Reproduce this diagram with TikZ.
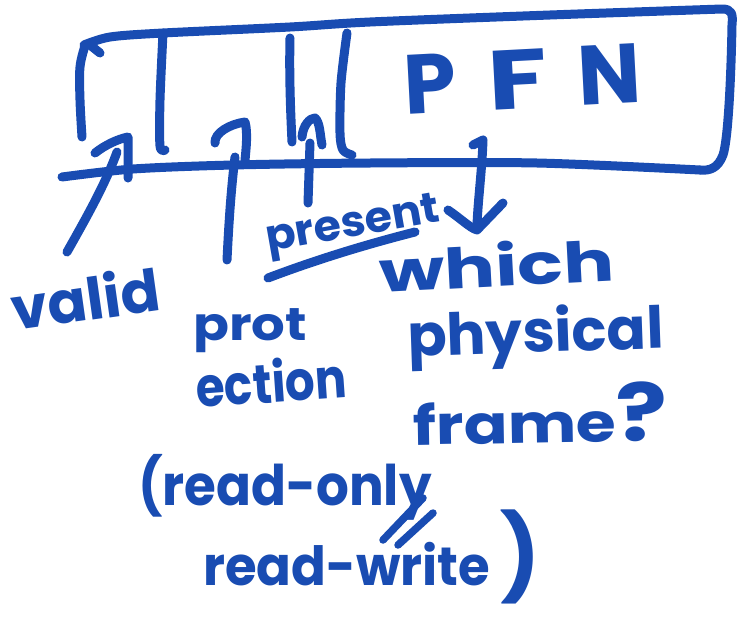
\documentclass[tikz,border=0pt]{standalone}
\usepackage{graphicx}
\usepackage{fontspec}
\newfontfamily\hand{Poppins}
\definecolor{ink}{RGB}{25,76,178}
\tikzset{
  pen/.style={draw=ink, line width=9pt, line cap=round, line join=round},
  thinpen/.style={pen, line width=7.5pt},
  word/.style={text=ink, inner sep=0pt, anchor=base west},
}
\newcommand{\handsize}[1]{\hand\bfseries\fontsize{#1}{#1}\selectfont}
\newcommand{\wide}[2]{\scalebox{#1}[1]{#2}}
\begin{document}
\begin{tikzpicture}[x=1pt,y=-1pt]
\useasboundingbox (0,0) rectangle (739,624);

% --- the page-table entry box ---
\draw[pen] plot[smooth, tension=0.6] coordinates {(82,137) (80,100) (80,67) (85,46)};
\draw[pen] plot[smooth] coordinates {(84,45) (110,37) (163,33) (290,27) (370,22) (550,15) (722,9)}
  .. controls (732,9) and (733,14) .. (732,25)
  .. controls (731,80) and (728,140) .. (723,155)
  .. controls (718,168) and (710,171) .. (700,170);
\draw[pen] plot[smooth] coordinates {(62,177) (133,169) (233,165) (370,163) (537,163) (700,170)};
\draw[pen] (90,45) -- (100,53);

% field dividers
\draw[pen] plot[smooth] coordinates {(163,33) (160,100) (160,146) (165,150)};
\draw[pen] (290,38) .. controls (289,80) and (291,120) .. (292,142);
\draw[pen] plot[smooth] coordinates {(347,33) (341,83) (340,133) (343,150) (352,155)};

% --- labels ---
\node[word, rotate=3, font=\handsize{84}] (pfn) at (405,115) {P\hspace{32pt}\wide{1.3}{F}\hspace{30pt}N};
\node[word, rotate=8, font=\handsize{58}] (valid) at (14,331) {valid};
\node[word, rotate=10, font=\handsize{43}] (present) at (268,252) {\wide{1.03}{present}};
\node[word, font=\handsize{46}] (prot) at (193,340) {\wide{1.15}{prot}};
\node[word, rotate=4, font=\handsize{55}] (ection) at (197,408) {\wide{0.85}{ection}};
\node[word, rotate=3, font=\handsize{56}] (which) at (380,293) {\wide{1.35}{which}};
\node[word, rotate=2, font=\handsize{58}] (physical) at (408,357) {physical};
\node[word, rotate=1, font=\handsize{54}] (frame) at (413,445) {\wide{1.2}{frame{\fontsize{80}{80}\selectfont ?}}};
\node[word, font=\handsize{56}] (ro) at (138,505) {\wide{0.92}{(read-only}};
\node[word, font=\handsize{54}] (rw) at (203,585) {\wide{0.95}{read-write}};
\node[word, font=\handsize{84}] (cparen) at (500,586) {)};

% underline of "present"
\coordinate (ulA) at (268,278);
\coordinate (ulB) at (415,232);
\draw[pen] (ulA) .. controls (310,262) and (360,246) .. (ulB);

% separator strokes between the two access modes
\coordinate (sA1) at (383,540); \coordinate (sA2) at (423,498);
\coordinate (sB1) at (398,545); \coordinate (sB2) at (433,513);
\draw[thinpen] (sA1) -- (sA2);
\draw[thinpen] (sB1) -- (sB2);

% --- arrows from the labels into the fields ---
% valid
\coordinate (vT) at (67,252);
\coordinate (vH) at (117,152);
\draw[pen] (vT) .. controls (85,220) and (105,185) .. (vH);
\draw[pen] (95,153) .. controls (105,145) and (118,139) .. (128,137) -- (128,178);

% protection
\coordinate (pT) at (227,260);
\coordinate (pH) at (235,157);
\draw[pen] (pT) .. controls (229,220) and (231,190) .. (pH);
\draw[pen] (215,143) .. controls (214,133) and (230,124) .. (245,122)
  .. controls (248,132) and (246,150) .. (245,160);

% present
\coordinate (prT) at (308,203);
\coordinate (prH) at (310,143);
\draw[pen] (prT) -- (prH);
\draw[pen] (302,137) .. controls (303,125) and (310,118) .. (315,118)
  .. controls (320,122) and (320,135) .. (322,145);

% PFN: which physical frame
\coordinate (fT) at (483,140);
\coordinate (fH) at (477,225);
\draw[pen] (473,145) -- (fT) .. controls (482,170) and (478,200) .. (fH);
\draw[pen] (448,210) .. controls (460,218) and (470,228) .. (477,230) -- (503,203);
\end{tikzpicture}
\end{document}
